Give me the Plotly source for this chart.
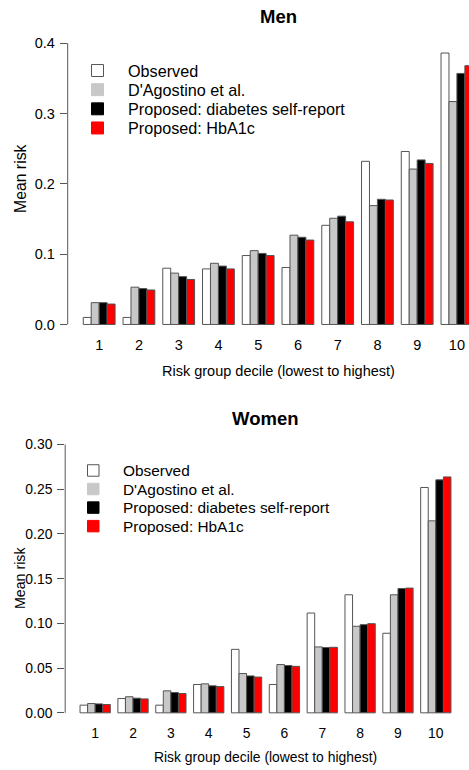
import plotly.graph_objects as go

deciles = [1, 2, 3, 4, 5, 6, 7, 8, 9, 10]
series_names = ["Observed", "D'Agostino et al.", "Proposed: diabetes self-report", "Proposed: HbA1c"]
series_colors = ["#FFFFFF", "#C8C8C8", "#000000", "#FF0000"]

men_observed = [0.010, 0.010, 0.080, 0.079, 0.098, 0.081, 0.141, 0.232, 0.246, 0.386]
men_dagostino = [0.031, 0.053, 0.073, 0.087, 0.105, 0.127, 0.151, 0.169, 0.221, 0.317]
men_selfreport = [0.031, 0.051, 0.068, 0.083, 0.101, 0.124, 0.154, 0.178, 0.234, 0.357]
men_hba1c = [0.029, 0.049, 0.064, 0.079, 0.098, 0.120, 0.146, 0.177, 0.229, 0.368]

women_observed = [0.0086, 0.016, 0.0086, 0.0317, 0.071, 0.0317, 0.1116, 0.132, 0.089, 0.252]
women_dagostino = [0.0104, 0.018, 0.0246, 0.0324, 0.044, 0.054, 0.0737, 0.0968, 0.132, 0.2147]
women_selfreport = [0.010, 0.0164, 0.0227, 0.0302, 0.0413, 0.0529, 0.073, 0.0986, 0.139, 0.2605]
women_hba1c = [0.0093, 0.0156, 0.0216, 0.0294, 0.040, 0.052, 0.0733, 0.0997, 0.1395, 0.2638]

men_ticks = [0.0, 0.1, 0.2, 0.3, 0.4]
women_ticks = [0.00, 0.05, 0.10, 0.15, 0.20, 0.25, 0.30]

FONT = "Liberation Sans, Arial, sans-serif"
EDGE = "#555555"

fig = go.Figure()
men = [men_observed, men_dagostino, men_selfreport, men_hba1c]
women = [women_observed, women_dagostino, women_selfreport, women_hba1c]
for name, col, vals in zip(series_names, series_colors, men):
    fig.add_trace(go.Bar(x=deciles, y=vals, name=name, marker=dict(color=col, line=dict(color=EDGE, width=1)),
                         xaxis="x", yaxis="y", offsetgroup=name, showlegend=False))
for name, col, vals in zip(series_names, series_colors, women):
    fig.add_trace(go.Bar(x=deciles, y=vals, name=name, marker=dict(color=col, line=dict(color=EDGE, width=1)),
                         xaxis="x2", yaxis="y2", offsetgroup=name, showlegend=False))

H = 770.0
W = 469.0
def yd(top_px, bot_px):
    return [(H - bot_px) / H, (H - top_px) / H]

# top panel: 0 at 325.3px, 0.4 at 43.3px -> 705 px/unit
top_lo, top_hi = -0.008, 0.416
top_dom = yd(43.3 - (top_hi - 0.4) * 705, 325.3 - top_lo * 705)
# bottom panel: 0 at 714.7px, 0.30 at 445.7px -> 896.7 px/unit
bot_lo, bot_hi = -0.008, 0.312
bot_dom = yd(445.7 - (bot_hi - 0.30) * 896.7, 714.7 - bot_lo * 896.7)

tickfont_top = dict(family=FONT, size=14.5, color="#000000")
tickfont_bot = dict(family=FONT, size=13.9, color="#000000")

fig.update_layout(
    width=469, height=770,
    margin=dict(l=0, r=0, t=0, b=0),
    paper_bgcolor="white", plot_bgcolor="white",
    barmode="group", bargap=0.2, bargroupgap=0,
    font=dict(family=FONT, size=14.5, color="#000000"),
    showlegend=False,
    xaxis=dict(domain=[67.7 / W, 1.0], range=[0.208, 10.304], tickvals=deciles, ticktext=[str(d) for d in deciles],
               showgrid=False, zeroline=False, showline=False, ticks="", tickfont=tickfont_top, anchor="y",
               ticklabelstandoff=4),
    yaxis=dict(domain=top_dom, range=[top_lo, top_hi], tickvals=men_ticks, tickformat=".1f",
               showgrid=False, zeroline=False, showline=False, ticks="outside", ticklen=7, tickcolor=EDGE,
               tickfont=tickfont_top, anchor="x", ticklabelstandoff=2),
    xaxis2=dict(domain=[65.2 / W, 465.8 / W], range=[0.208, 10.792], tickvals=deciles, ticktext=[str(d) for d in deciles],
                showgrid=False, zeroline=False, showline=False, ticks="", tickfont=tickfont_bot, anchor="y2",
                ticklabelstandoff=3),
    yaxis2=dict(domain=bot_dom, range=[bot_lo, bot_hi], tickvals=women_ticks, tickformat=".2f",
                showgrid=False, zeroline=False, showline=False, ticks="outside", ticklen=7, tickcolor=EDGE,
                tickfont=tickfont_bot, anchor="x2", ticklabelstandoff=2),
)

# y axis lines spanning only the tick range (base-R style)
fig.add_shape(type="line", xref="x domain", yref="y", x0=0, x1=0, y0=men_ticks[0], y1=men_ticks[-1],
              line=dict(color=EDGE, width=1))
fig.add_shape(type="line", xref="x2 domain", yref="y2", x0=0, x1=0, y0=women_ticks[0], y1=women_ticks[-1],
              line=dict(color=EDGE, width=1))

def ann(text, x, y, size=14.5, bold=False, angle=0, xanchor="center"):
    fig.add_annotation(text=("<b>%s</b>" % text) if bold else text, x=x / W, y=(H - y) / H, xref="paper", yref="paper",
                       showarrow=False, xanchor=xanchor, yanchor="middle", textangle=angle,
                       font=dict(family=FONT, size=size, color="#000000"))

ann("Men", 278, 16.5, size=18.5, bold=True)
ann("Women", 265, 420, size=18.5, bold=True)
ann("Mean risk", 20, 179.5, size=15.8, angle=-90)
ann("Mean risk", 20, 579.5, size=14.2, angle=-90)
ann("Risk group decile (lowest to highest)", 278, 372, size=14.5)
ann("Risk group decile (lowest to highest)", 265.7, 759, size=13.9)

# legends (base-R style: filled boxes, no frame)
def legend(box_x0, box_size, text_x, first_y, step, size):
    for i, (name, col) in enumerate(zip(series_names, series_colors)):
        cy = first_y + i * step
        fig.add_shape(type="rect", xref="paper", yref="paper",
                      x0=box_x0 / W, x1=(box_x0 + box_size) / W,
                      y0=(H - (cy + box_size / 2)) / H, y1=(H - (cy - box_size / 2)) / H,
                      fillcolor=col, line=dict(color=EDGE if col == "#FFFFFF" else col, width=1))
        ann(name, text_x, cy, size=size, xanchor="left")

legend(91.5, 12, 125.5, 70.7, 19.2, 16.2)
legend(87.5, 11.5, 120.5, 471.7, 18.6, 15.4)

fig.write_html("out.html", config={"displayModeBar": False},
               post_script="document.body.style.margin='0';document.body.style.overflow='hidden';")
